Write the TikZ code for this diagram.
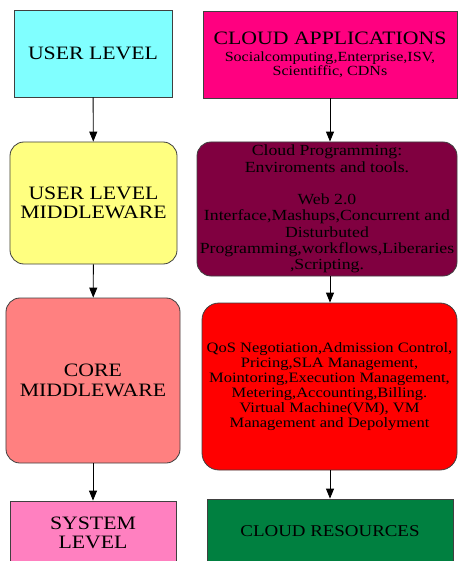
\documentclass[tikz,border=0pt]{standalone}
\usepackage{fontspec}
\setmainfont[FakeStretch=1.15]{Liberation Serif}
\usetikzlibrary{arrows.meta}
\definecolor{cyanbox}{HTML}{80FFFF}
\definecolor{yellowbox}{HTML}{FFFF80}
\definecolor{salmonbox}{HTML}{FF8080}
\definecolor{pinkbox}{HTML}{FF80C0}
\definecolor{magentabox}{HTML}{FF0080}
\definecolor{maroonbox}{HTML}{800040}
\definecolor{redbox}{HTML}{FF0000}
\definecolor{greenbox}{HTML}{008040}
\definecolor{edge}{HTML}{404040}
\newcommand{\bigtxt}{\fontsize{19}{14}\selectfont}
\newcommand{\subtxt}{\fontsize{14}{14}\selectfont}
\begin{document}
\begin{tikzpicture}[x=1bp,y=-1bp,
  box/.style={draw=edge,line width=0.8bp,align=center,inner sep=0pt,text=black},
  plainbox/.style={box,rectangle},
  roundbox/.style={box,rounded corners=14bp},
  biglabel/.style={font=\fontsize{19}{19.5}\selectfont},
  flow/.style={draw=black,line width=0.9bp,-{Triangle[width=8bp,length=10bp]}}]
\clip (0,0) rectangle (458,561);
\fill[white] (0,0) rectangle (458,561);

% left column: user side layers
\node[plainbox,fill=cyanbox,biglabel,minimum width=158bp,minimum height=87bp]
  (ul) at (93,53.5) {USER LEVEL};
\node[roundbox,fill=yellowbox,biglabel,minimum width=167bp,minimum height=122bp]
  (ulm) at (93.5,203) {USER LEVEL\\MIDDLEWARE};
\node[roundbox,fill=salmonbox,biglabel,minimum width=174bp,minimum height=165bp]
  (core) at (93,380.5) {CORE\\MIDDLEWARE};
\node[plainbox,fill=pinkbox,biglabel,minimum width=166bp,minimum height=64bp]
  (sys) at (93,533) {SYSTEM\\LEVEL};

% right column: cloud side layers
\node[plainbox,fill=magentabox,minimum width=254bp,minimum height=87bp,
  font=\subtxt]
  (ca) at (330,54.5) {\bigtxt CLOUD APPLICATIONS\subtxt\\[3bp]
  Socialcomputing,Enterprise,ISV,\\Scientiffic, CDNs};
\node[roundbox,fill=maroonbox,minimum width=260bp,minimum height=134bp,
  font=\fontsize{15.5}{16.3}\selectfont]
  (cp) at (327,209) {Cloud Programming:\\Enviroments and tools.\\[16.3bp]Web 2.0\\
  Interface,Mashups,Concurrent and\\Disturbuted\\Programming,workflows,Liberaries\\,Scripting.};
\node[roundbox,rounded corners=17bp,fill=redbox,minimum width=255bp,minimum height=167bp,
  font=\fontsize{14.4}{15.2}\selectfont]
  (qos) at (329.5,386.5) {QoS Negotiation,Admission Control,\\Pricing,SLA Management,\\
  Mointoring,Execution Management,\\Metering,Accounting,Billing.\\
  Virtual Machine(VM), VM\\Management and Depolyment};
\node[plainbox,fill=greenbox,minimum width=246bp,minimum height=64bp,
  font=\fontsize{16.5}{17}\selectfont]
  (cr) at (330,531) {CLOUD RESOURCES};

% connectors
\draw[flow] (ul) -- (ulm);
\draw[flow] (ulm) -- (core);
\draw[flow] (core) -- (sys);
\draw[flow] (ca.south) -- (ca.south |- cp.north);
\draw[flow] (ca.south |- cp.south) -- (ca.south |- qos.north);
\draw[flow] (ca.south |- qos.south) -- (cr.north);
\end{tikzpicture}
\end{document}
